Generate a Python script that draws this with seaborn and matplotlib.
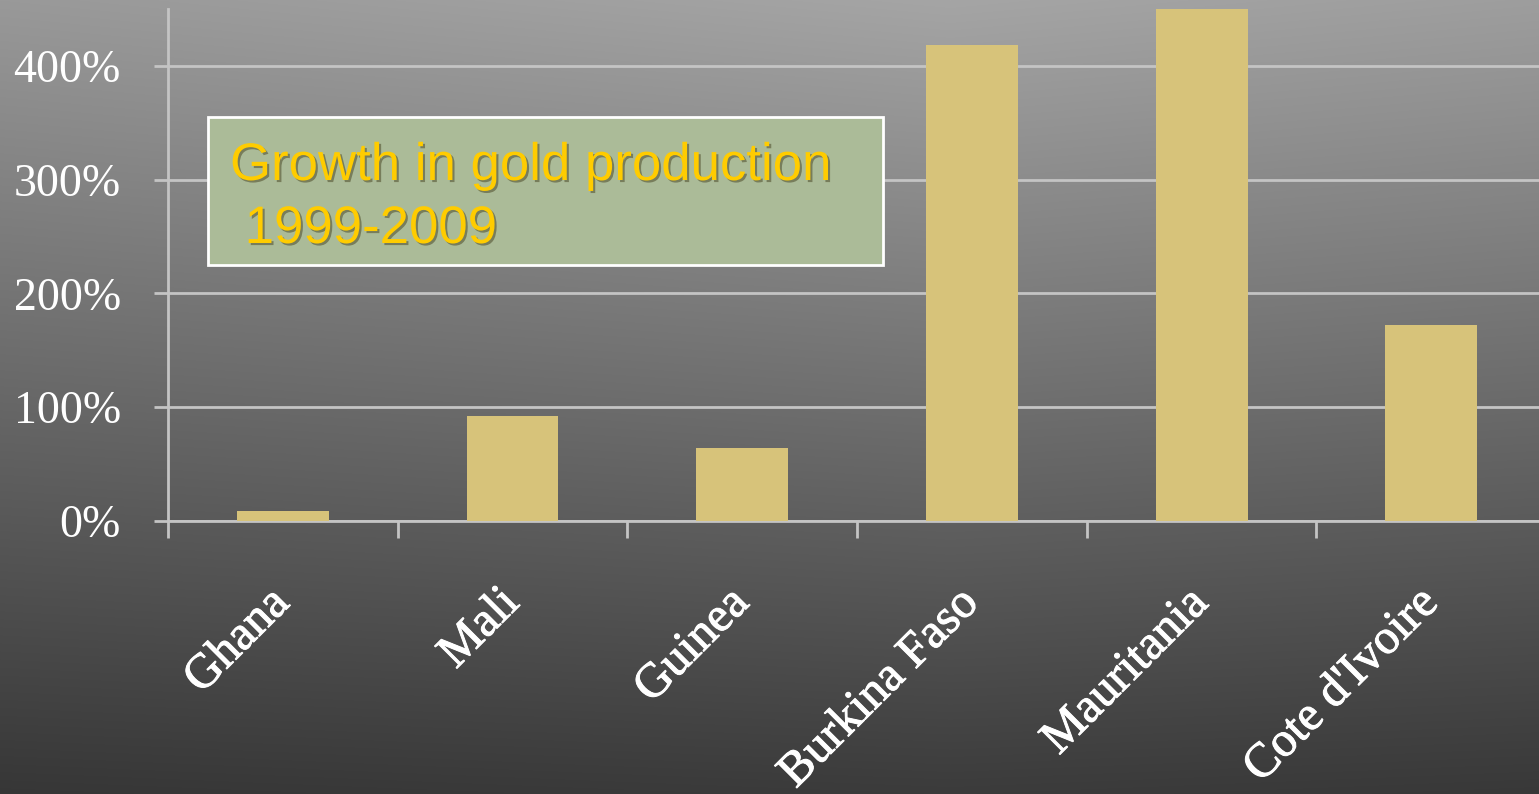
import numpy as np
import matplotlib
matplotlib.use('agg')
import matplotlib.pyplot as plt
import matplotlib.patheffects as pe
from matplotlib.patches import Rectangle
from matplotlib.ticker import FuncFormatter
import seaborn as sns

countries = ['Ghana', 'Mali', 'Guinea', 'Burkina Faso', 'Mauritania', "Cote d'Ivoire"]
growth = [9, 92, 64, 418, 450, 172]
yticks = [0, 100, 200, 300, 400]
box_title = 'Growth in gold production'
box_years = ' 1999-2009'

W, H = 1539, 794
bar_color = '#d7c37a'
line_color = '#c4c4c4'

def main():
    sns.set_style('white')
    fig = plt.figure(figsize=(W / 100, H / 100), dpi=100)

    # gradient background
    bg = fig.add_axes([0, 0, 1, 1], zorder=-10)
    yy, xx = np.mgrid[0:H, 0:W]
    v = 165 - 106 * (yy / H) - 12 * np.abs(xx - 950) / 950 * (1 - 0.6 * yy / H)
    v = np.clip(v, 0, 255) / 255.0
    bg.imshow(np.dstack([v, v, v]), aspect='auto', extent=[0, 1, 0, 1])
    bg.axis('off')

    ax = fig.add_axes([168 / W, 273 / H, 6 * 229.7 / W, 512 / H])
    ax.patch.set_alpha(0)
    sns.barplot(x=countries, y=growth, color=bar_color, width=0.4,
                saturation=1, linewidth=0, edgecolor=bar_color, ax=ax, zorder=3)
    ax.set_xlim(-0.5, 5.5)
    ax.set_ylim(0, 450)
    ax.set_xlabel('')
    ax.set_ylabel('')

    ax.set_yticks(yticks)
    ax.yaxis.set_major_formatter(FuncFormatter(lambda v, p: '%d%%' % v))
    ax.yaxis.grid(True, color=line_color, lw=2, zorder=0)
    ax.set_axisbelow(True)

    ax.set_xticks(np.arange(-0.5, 6, 1))
    ax.set_xticklabels([''] * 7)
    ax.set_xticks(np.arange(6), countries, minor=True)
    ax.tick_params(axis='x', which='major', bottom=True, length=12, width=2,
                   color=line_color, direction='out')
    ax.tick_params(axis='x', which='minor', bottom=True, length=0, pad=54)
    ax.tick_params(axis='y', left=True, length=10, width=2, color=line_color,
                   direction='out', pad=24)

    # slightly heavier strokes, closer to the original book-style face
    heavy = [pe.withStroke(linewidth=0.7, foreground='white')]
    for lab in ax.get_xticklabels(minor=True):
        lab.set_rotation(45)
        lab.set_ha('right')
        lab.set_va('center')
        lab.set_rotation_mode('anchor')
        lab.set_fontsize(35)
        lab.set_family('Liberation Serif')
        lab.set_color('white')
        lab.set_path_effects(heavy)
    for lab in ax.get_yticklabels():
        lab.set_fontsize(33)
        lab.set_family('Liberation Serif')
        lab.set_color('white')

    for s in ['top', 'right']:
        ax.spines[s].set_visible(False)
    for s in ['left', 'bottom']:
        ax.spines[s].set_color(line_color)
        ax.spines[s].set_linewidth(2)

    # title box
    fig.patches.append(Rectangle((208 / W, 1 - 265 / H), 675 / W, 148 / H,
                                 transform=fig.transFigure, facecolor='#abbb98',
                                 edgecolor='white', lw=2, zorder=5))
    shadow = [pe.withSimplePatchShadow(offset=(1.5, -1.5), shadow_rgbFace='#555533', alpha=0.6)]
    fig.text(230 / W, 1 - 180 / H, box_title, fontsize=38, family='Liberation Sans',
             color='#ffcc00', va='baseline', zorder=6, path_effects=shadow)
    fig.text(230 / W, 1 - 243 / H, box_years, fontsize=38, family='Liberation Sans',
             color='#ffcc00', va='baseline', zorder=6, path_effects=shadow)

    fig.savefig('out.png', dpi=100)
    plt.close('all')

if __name__ == '__main__':
    main()
